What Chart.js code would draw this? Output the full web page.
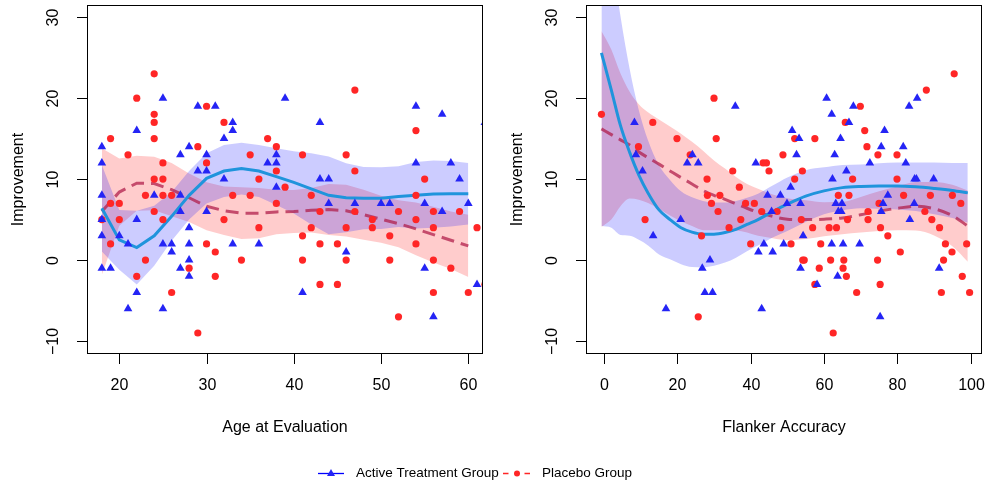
<!DOCTYPE html>
<html>
<head>
<meta charset="utf-8">
<script src="https://cdn.jsdelivr.net/npm/chart.js@4/dist/chart.umd.min.js"></script>
<style>
  html, body { margin: 0; padding: 0; background: #fff; }
  #wrap { position: relative; width: 987px; height: 487px; }
  #wrap canvas { position: absolute; left: 0; top: 0; }
</style>
</head>
<body>
<div id="wrap">
  <canvas id="ageChart" width="987" height="487"></canvas>
  <canvas id="flankerChart" width="987" height="487"></canvas>
</div>
<script>
// tick labels
const yTicks = [-10, 0, 10, 20, 30];
const ageTicks = [20, 30, 40, 50, 60];
const flankerTicks = [0, 20, 40, 60, 80, 100];

// --- Age at Evaluation panel: observations ---
const ageActiveX = [18,18,18,18,18,18,19,20,21,22,22,22,21,25,24,25,25,26,26,27,27,27,27,28,28,28,28,28,29,29,30,30,30,31,32,32,33,33,33,36,37,38,38,38,39,41,43,43,44,44,46,47,50,51,54,54,55,55,56,57,57,58,59,60,61,61.9];
const ageActiveY = [14,12,8,5,3,-1,-1,3,2,16,5,-4,-6,20,8,2,-6,2,1,13,8,6,-1,14,4,2,0,-2,19,11,13,11,6,19,15,10,17,16,2,2,12,13,12,9,20,-4,17,10,10,7,1,7,7,7,19,12,7,-1,-7,18,6,12,10,7,-3,17];
const agePlaceboX = [19,19,18,19,20,20,21,22,22,23,23,24,24,24,24,24,24,25,25,25,25,26,26,28,29,29,30,30,30,31,31,32,32,33,34,35,35,36,36,37,38,38,38,39,41,41,41,42,42,43,43,43,45,45,46,46,46,47,47,47,49,49,51,51,52,52,54,54,54,54,55,56,56,56,56,58,59,60,61,61.9];
const agePlaceboY = [15,7,5,2,7,5,13,20,-2,8,0,23,18,17,15,10,6,12,10,8,5,8,-4,-1,14,-9,19,12,2,1,-2,17,5,8,0,13,8,10,4,15,14,11,7,9,13,3,0,8,4,6,2,-3,2,-3,13,4,0,21,11,6,5,4,3,0,6,-7,16,8,5,2,10,6,4,0,-4,-1,6,-4,4,-3];

// --- Age panel: smooth fits and bands ---
const ageGrid = [18,20,22,24,26,28,30,32,34,36,38,40,42,44,46,48,50,52,54,56,58,60];
const ageActiveFit   = [6.4,2.5,1.55,3.0,5.4,8.0,10.1,11.0,11.3,11.0,10.3,9.6,8.8,8.0,7.7,7.65,7.65,7.85,8.0,8.15,8.2,8.2];
const ageActiveUpper = [11.75,6.2,6.1,6.7,8.4,11.0,13.2,14.2,14.5,14.2,13.8,13.45,13.2,12.8,11.95,11.5,11.45,11.6,12.1,12.3,12.25,12.0];
const ageActiveLower = [1.05,-1.2,-3.0,-0.7,2.4,5.0,7.0,7.8,8.1,7.8,6.8,5.75,4.4,3.2,3.45,3.8,3.85,4.1,3.9,4.0,4.15,4.4];
const agePlaceboFit   = [6.0,8.4,9.5,9.45,8.7,7.7,6.65,6.1,5.8,5.8,5.95,6.0,6.15,6.25,6.1,5.6,5.05,4.5,3.85,3.15,2.45,1.75];
const agePlaceboUpper = [13.8,12.55,12.9,12.75,12.0,10.7,9.6,9.1,9.0,8.9,8.7,8.65,8.9,9.4,9.3,8.7,7.95,7.4,7.1,6.6,6.0,5.6];
const agePlaceboLower = [-1.8,4.25,6.1,6.15,5.4,4.7,3.7,3.1,2.6,2.7,3.2,3.35,3.4,3.1,2.9,2.5,2.15,1.6,0.6,-0.3,-1.1,-2.1];

// --- Flanker Accuracy panel: observations ---
const flankerActiveX = [8.3,8.7,10.5,13.4,16.9,20.9,22.7,24.1,25.7,26.8,27.5,28.9,29.6,35.8,41.4,42.1,43,43.6,44.6,45.7,46,48.1,49,49.9,50.9,51.3,52.5,53.2,53.6,54.3,53.6,58.1,60.7,62.1,62.3,62.1,62.9,63.2,63.9,64.7,64.9,64.5,63.7,65.2,66.1,66.8,68,69.7,72.5,75.3,75.6,75.6,76.1,76.5,77.4,81.6,82.3,83.2,83.4,84.6,84.7,85.2,85.4,89.9,91.4];
const flankerActiveY = [17,13,11,3,-6,5,12,13,12,-1,-4,0,-4,19,12,1,-6,2,8,6,1,8,2,7,9,16,13,15,7,3,-1,-3,20,18,10,2,13,7,6,6,7,15,-2,2,11,17,19,2,12,-7,14,6,7,16,8,14,12,19,5,7,10,10,20,10,-1];
const flankerPlaceboX = [-0.7,9.4,11.2,13.3,19.9,23.5,25.7,26.6,28.1,28.2,29.3,30,30.6,31.1,31.6,34.1,35.1,36.9,37.3,38.6,40,41,43,43.4,44.3,45,47.2,48.2,48.8,51,52,52,54.1,53.8,54.2,54.6,56.9,57.5,57.5,58.7,59.1,61.4,61.8,62.5,63.4,63.9,65.2,65.4,65.8,66.1,66.4,66.8,67.8,68.9,69.9,71.1,71.7,72,72,74.7,74.6,75,75.4,75.3,77.4,79.9,79.9,80.8,81.7,87.5,87.9,89,89.4,91.5,92,92.6,93.1,95,94.9,95.5,97.3,97.7,98.9,99.7];
const flankerPlaceboY = [18,14,5,17,15,13,-7,3,10,8,7,20,15,6,8,4,11,9,5,7,2,7,6,12,12,11,6,4,13,2,15,10,11,5,0,0,4,15,-3,-1,2,4,0,-9,4,8,-1,0,17,-2,5,8,10,-4,19,16,14,6,5,13,0,7,4,-3,3,13,10,1,8,6,21,8,5,4,-4,0,2,8,1,23,7,-2,2,-4];

// --- Flanker panel: smooth fits and bands ---
const flankerGrid = [-0.7,2,4.5,7,9.5,12,15,18,21,24,27,30,33,36,39,42,46,50,55,60,65,70,75,80,85,90,95,99.2];
const flankerActiveFit   = [25.6,21.0,16.6,13.3,10.5,8.3,6.2,5.0,4.0,3.45,3.2,3.2,3.4,3.8,4.4,5.0,6.0,6.9,7.9,8.55,8.95,9.1,9.15,9.15,9.05,8.85,8.6,8.3];
const flankerActiveUpper = [47.0,38.0,30.1,23.6,18.5,14.8,11.7,9.9,8.5,7.75,7.3,7.1,7.1,7.3,7.7,8.2,9.2,10.2,11.1,11.45,11.75,11.8,11.95,12.05,12.05,12.05,12.0,12.0];
const flankerActiveLower = [4.2,4.0,3.1,3.0,2.5,1.8,0.7,0.1,-0.5,-0.85,-0.9,-0.7,-0.3,0.3,1.1,1.8,2.8,3.6,4.7,5.65,6.15,6.4,6.35,6.25,6.05,5.65,5.2,4.6];
const flankerPlaceboFit   = [16.2,15.5,14.85,14.2,13.35,12.65,11.85,11.0,10.2,9.4,8.6,8.0,7.5,6.95,6.4,5.9,5.4,5.05,5.0,5.05,5.2,5.6,6.05,6.4,6.65,6.35,5.5,4.2];
const flankerPlaceboUpper = [28.3,26.0,23.05,20.8,19.25,18.25,17.35,16.5,15.6,14.6,13.5,12.3,11.3,10.25,9.4,8.8,8.1,7.65,7.4,7.15,7.2,7.8,8.5,9.1,9.65,9.65,9.3,8.6];
const flankerPlaceboLower = [4.1,5.0,6.65,7.6,7.45,7.05,6.35,5.5,4.8,4.2,3.7,3.7,3.7,3.65,3.4,3.0,2.7,2.45,2.6,2.95,3.2,3.4,3.6,3.7,3.65,3.05,1.7,-0.2];

const FONT = '"Liberation Sans", Arial, Helvetica, sans-serif';

const toPoints = (xs, ys) => xs.map((x, i) => ({ x, y: ys[i] }));

// R-style box, ticks, labels and the shared legend
const rAxes = {
  id: 'rAxes',
  afterDraw(chart, args, opts) {
    const { ctx, chartArea: a } = chart;
    const xs = chart.scales.x, ys = chart.scales.y;
    const L = Math.round(a.left) - 0.5, R = Math.round(a.right) - 0.5;
    const T = Math.round(a.top) + 0.5, B = Math.round(a.bottom) - 0.5;
    ctx.save();
    ctx.strokeStyle = '#000';
    ctx.fillStyle = '#000';
    ctx.lineWidth = 1;
    ctx.strokeRect(L, T, R - L, B - T);

    ctx.font = '16px ' + FONT;
    ctx.textAlign = 'center';
    ctx.textBaseline = 'middle';
    opts.xTicks.forEach(v => {
      const px = Math.round(xs.getPixelForValue(v)) + 0.5;
      ctx.beginPath(); ctx.moveTo(px, B); ctx.lineTo(px, B + 10.5); ctx.stroke();
      ctx.fillText(String(v), px, B + 32.5);
    });
    yTicks.forEach(v => {
      const py = Math.round(ys.getPixelForValue(v)) + 0.5;
      ctx.beginPath(); ctx.moveTo(L - 10.5, py); ctx.lineTo(L, py); ctx.stroke();
      ctx.save();
      ctx.translate(L - 30, py);
      ctx.rotate(-Math.PI / 2);
      ctx.textBaseline = 'alphabetic';
      ctx.fillText(v < 0 ? '\u2212' + Math.abs(v) : String(v), 0, 0);
      ctx.restore();
    });

    ctx.fillText(opts.xTitle, (L + R) / 2, B + 74);
    ctx.save();
    ctx.translate(L - 65, (T + B) / 2);
    ctx.rotate(-Math.PI / 2);
    ctx.textBaseline = 'alphabetic';
    ctx.fillText('Improvement', 0, 0);
    ctx.restore();

    if (opts.legend) {
      const ly = 473.5;
      ctx.lineWidth = 1.3;
      ctx.strokeStyle = '#0000ff';
      ctx.fillStyle = '#2424f5';
      ctx.beginPath(); ctx.moveTo(318, ly); ctx.lineTo(344, ly); ctx.stroke();
      ctx.beginPath();
      ctx.moveTo(331, ly - 4.5); ctx.lineTo(335, ly + 2.5); ctx.lineTo(327, ly + 2.5);
      ctx.closePath(); ctx.fill();
      ctx.strokeStyle = '#ff2626';
      ctx.fillStyle = '#ff2626';
      ctx.beginPath();
      ctx.moveTo(503, ly); ctx.lineTo(508.5, ly);
      ctx.moveTo(524.5, ly); ctx.lineTo(530, ly);
      ctx.stroke();
      ctx.beginPath(); ctx.arc(517, ly, 3, 0, Math.PI * 2); ctx.fill();

      ctx.fillStyle = '#000';
      ctx.font = '13.5px ' + FONT;
      ctx.textAlign = 'left';
      ctx.textBaseline = 'middle';
      ctx.fillText('Active Treatment Group', 356, ly);
      ctx.fillText('Placebo Group', 542, ly);
    }
    ctx.restore();
  }
};

function buildDatasets(grid, aFit, aUp, aLo, pFit, pUp, pLo, aX, aY, pX, pY, smooth) {
  const curve = smooth ? { cubicInterpolationMode: 'monotone' } : { tension: 0 };
  const band = (ys, fill, color, order) => Object.assign({
    data: toPoints(grid, ys), fill, backgroundColor: color,
    borderWidth: 0, borderColor: 'rgba(0,0,0,0)', pointRadius: 0, order, clip: 0
  }, curve);
  return [
    band(aUp, '+1', 'rgba(0, 0, 255, 0.2)', 5),
    band(aLo, false, 'rgba(0,0,0,0)', 5),
    band(pUp, '+1', 'rgba(255, 0, 0, 0.2)', 6),
    band(pLo, false, 'rgba(0,0,0,0)', 6),
    Object.assign({
      data: toPoints(grid, aFit), borderColor: '#1f94dc', borderWidth: 3,
      pointRadius: 0, fill: false, order: 3, clip: 0
    }, curve),
    Object.assign({
      data: toPoints(grid, pFit), borderColor: 'rgba(175, 25, 70, 0.72)', borderWidth: 3,
      borderDash: [13, 7], pointRadius: 0, fill: false, order: 4, clip: 0
    }, curve),
    {
      data: toPoints(aX, aY), showLine: false, pointStyle: 'triangle', pointRadius: 5,
      pointBackgroundColor: '#2424f5', pointBorderWidth: 0, order: 1, clip: 0
    },
    {
      data: toPoints(pX, pY), showLine: false, pointStyle: 'circle', pointRadius: 3.6,
      pointBackgroundColor: '#ff2626', pointBorderWidth: 0, order: 2, clip: 0
    }
  ];
}

function makeChart(id, datasets, xMin, xMax, padding, axesOpts) {
  return new Chart(document.getElementById(id), {
    type: 'line',
    data: { datasets },
    options: {
      responsive: false,
      animation: false,
      events: [],
      layout: { padding },
      scales: {
        x: { type: 'linear', min: xMin, max: xMax, display: false },
        y: { type: 'linear', min: -11.595, max: 31.5, display: false }
      },
      plugins: { legend: { display: false }, tooltip: { enabled: false }, rAxes: axesOpts }
    },
    plugins: [rAxes]
  });
}

makeChart('ageChart',
  buildDatasets(ageGrid, ageActiveFit, ageActiveUpper, ageActiveLower,
    agePlaceboFit, agePlaceboUpper, agePlaceboLower,
    ageActiveX, ageActiveY, agePlaceboX, agePlaceboY, false),
  16.413, 61.685, { left: 88, right: 504, top: 2, bottom: 133 },
  { xTicks: ageTicks, xTitle: 'Age at Evaluation', legend: true });

makeChart('flankerChart',
  buildDatasets(flankerGrid, flankerActiveFit, flankerActiveUpper, flankerActiveLower,
    flankerPlaceboFit, flankerPlaceboUpper, flankerPlaceboLower,
    flankerActiveX, flankerActiveY, flankerPlaceboX, flankerPlaceboY, true),
  -4.636, 103.08, { left: 587, right: 5, top: 2, bottom: 133 },
  { xTicks: flankerTicks, xTitle: 'Flanker Accuracy', legend: false });
</script>
</body>
</html>
